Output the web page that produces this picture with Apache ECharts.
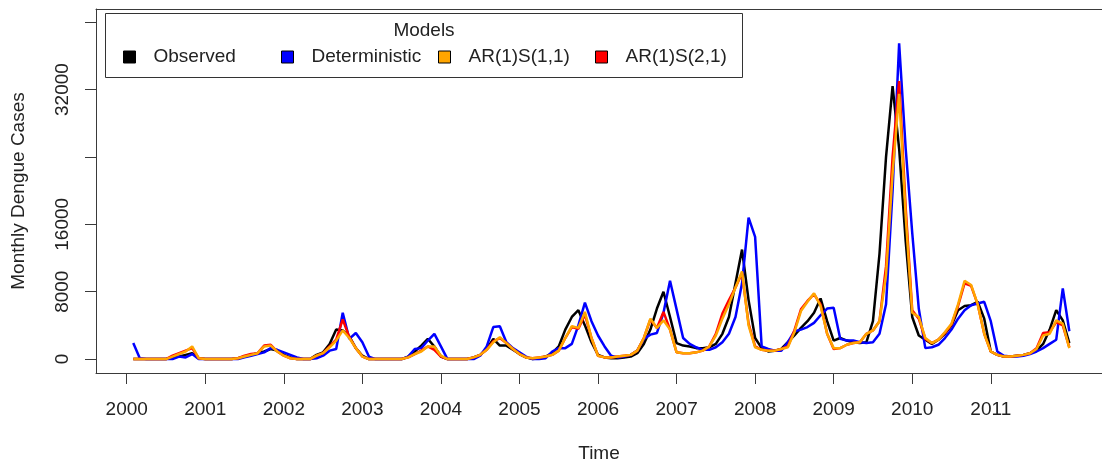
<!DOCTYPE html>
<html>
<head>
<meta charset="utf-8">
<script src="https://cdn.jsdelivr.net/npm/echarts@6/dist/echarts.min.js"></script>
<style>
html,body{margin:0;padding:0;background:#fff;}
#chart{width:1102px;height:468px;}
</style>
</head>
<body>
<div id="chart"></div>
<script>
// ---- data (monthly, Feb 2000 .. Jan 2012) ----
const startYear = 2000;
const observed = [0,0,0,0,0,0,200,300,500,700,100,0,
0,0,0,0,100,300,500,700,900,1200,1000,500,
200,0,0,0,500,800,1800,3500,3400,2700,1300,400,
0,0,0,0,0,0,300,900,1600,2400,1500,300,
0,0,0,0,200,500,1200,2400,1600,1600,1100,600,
200,0,100,300,700,1500,3500,5000,5800,4000,2000,500,
200,100,100,200,300,700,1800,3500,6000,8000,5000,1900,
1600,1500,1300,1300,1400,1800,3000,5000,9000,13000,7000,2500,
1300,900,1000,1200,2000,2800,3700,4500,5500,7200,4500,2200,
2500,2200,2000,1900,2000,4500,12500,24000,32400,25000,14000,5000,
2800,2300,1800,2300,3000,4000,5800,6300,6400,6800,4800,900,
500,300,300,400,500,700,1000,1800,3500,5800,4600,1900];
const deterministic = [1900,100,0,0,0,0,0,300,200,600,0,0,
0,0,0,0,0,200,400,600,800,1300,1100,800,
500,200,0,0,100,400,1000,1200,5500,2400,3100,2000,
300,0,0,0,0,0,300,1200,1300,2200,3000,1500,
0,0,0,0,0,400,1500,3800,3900,2000,1300,800,
300,0,0,100,900,1300,1300,1800,4000,6700,4500,2800,
1500,400,200,300,500,1000,2400,2900,3100,5500,9300,5900,
2500,1800,1400,1100,1100,1400,2000,3000,5000,9000,16800,14500,
1500,1200,1000,1000,2000,3300,3500,3800,4300,5200,6000,6100,
2400,2200,2200,2000,1900,2000,3000,6500,20000,37500,25000,15000,
6000,1300,1400,1700,2500,3500,4800,5800,6400,6600,6800,4500,
900,400,300,300,400,600,900,1300,1800,2300,8400,3300];
const ar1s11 = [0,0,0,0,0,0,300,600,900,1500,100,0,
0,0,0,0,100,300,500,700,1500,1600,900,400,
100,0,0,0,400,700,1400,2200,3400,2500,1300,300,
0,0,0,0,0,0,200,600,900,1500,1500,400,
0,0,0,0,200,500,1100,2000,2600,1900,1200,600,
200,100,200,300,500,1000,2500,3900,3700,5600,2500,400,
200,200,300,400,500,1000,2500,4800,3700,4600,3500,800,
700,700,800,1000,1500,2800,4800,6500,8500,10400,4000,1400,
1100,1000,1000,1200,1400,3200,5700,6800,7800,6300,3000,1300,
1300,1700,1900,2000,3000,3400,4500,10000,22000,31500,17000,5500,
5000,2500,1900,2300,3200,4200,6500,9300,8800,6500,3000,900,
500,300,300,400,500,700,1200,2800,3000,4600,4200,1300];
const ar1s21 = [0,0,0,0,0,0,400,700,1000,1300,100,0,
0,0,0,0,100,400,600,700,1600,1700,900,400,
100,0,0,0,400,700,1500,2300,4700,2600,1300,300,
0,0,0,0,0,0,200,600,1000,1500,1100,300,
0,0,0,0,200,500,1100,2100,2500,1900,1200,600,
200,100,200,300,500,1000,2500,3800,3600,5300,2500,400,
200,200,300,400,500,1000,2500,4700,3700,5600,3500,800,
700,700,800,1000,1500,3000,5400,7000,8500,10200,4200,1500,
1100,1000,1000,1200,1500,3400,5900,6900,7700,6500,3000,1200,
1300,1700,1900,2000,3000,3400,4500,11000,24000,33000,18000,5800,
4800,2400,1900,2300,3100,4100,6300,9000,8700,6500,3000,900,
500,300,300,400,500,700,1300,3100,3200,4400,4000,1400];
const yearTicks = [2000,2001,2002,2003,2004,2005,2006,2007,2008,2009,2010,2011];
const yTicks = [0,8000,16000,24000,32000,40000];
const yLabels = {0:'0',8000:'8000',16000:'16000',32000:'32000'};
const seriesNames = ['Observed','Deterministic','AR(1)S(1,1)','AR(1)S(2,1)'];
const seriesColors = ['#000000','#0000FF','#FFA500','#FF0000'];

const time = observed.map((_, i) => startYear + (i + 1) / 12);
const pairs = arr => arr.map((v, i) => [time[i], v]);

const FONT = '"Liberation Sans", Arial, sans-serif';
const AX = '#3a3a3a';
const TXT = '#222222';
const XMIN = 1999.609, XMAX = 2012.416;

const chart = echarts.init(document.getElementById('chart'), null, {renderer: 'canvas'});

const legendLeft = [123, 281, 438, 595];
const legends = seriesNames.map((n, i) => ({
  data: [n], left: legendLeft[i], top: 47, padding: 0, z: 120, zlevel: 0,
  icon: 'rect', itemWidth: 12, itemHeight: 12,
  itemStyle: {borderColor: '#000', borderWidth: 1},
  selectedMode: false,
  textStyle: {fontFamily: FONT, fontSize: 19, color: TXT, padding: [0,0,0,13], lineHeight: 20}
}));

const mk = (name, arr, color, z) => ({
  name, type: 'line', data: pairs(arr), showSymbol: false, symbol: 'none',
  lineStyle: {color, width: 2.5}, itemStyle: {color}, z, silent: true, animation: false
});

chart.setOption({
  animation: false,
  grid: {left: 96, top: 9, right: 0, bottom: 93, show: false},
  xAxis: [{
    type: 'value', min: XMIN, max: XMAX,
    splitLine: {show: false},
    axisLine: {show: true, onZero: false, lineStyle: {color: AX, width: 1}},
    axisTick: {show: true, inside: false, length: 11, lineStyle: {color: AX, width: 1}, customValues: yearTicks},
    axisLabel: {customValues: yearTicks, formatter: v => String(Math.round(v)), fontFamily: FONT, fontSize: 19, color: TXT, margin: 27},
    name: 'Time', nameLocation: 'middle', nameGap: 71,
    nameTextStyle: {fontFamily: FONT, fontSize: 19, color: TXT}
  }, {
    type: 'value', position: 'top', min: XMIN, max: XMAX,
    splitLine: {show: false},
    axisLine: {show: true, onZero: false, lineStyle: {color: AX, width: 1}},
    axisTick: {show: false}, axisLabel: {show: false}
  }],
  yAxis: {
    type: 'value', min: -1653, max: 41563,
    splitLine: {show: false},
    axisLine: {show: true, onZero: false, lineStyle: {color: AX, width: 1}},
    axisTick: {show: true, inside: false, length: 11, lineStyle: {color: AX, width: 1}, customValues: yTicks},
    axisLabel: {customValues: yTicks, rotate: 90, formatter: v => (yLabels[Math.round(v)] !== undefined ? yLabels[Math.round(v)] : ''), fontFamily: FONT, fontSize: 19, color: TXT, margin: 24},
    name: 'Monthly Dengue Cases', nameLocation: 'middle', nameGap: 68, nameRotate: 90,
    nameTextStyle: {fontFamily: FONT, fontSize: 19, color: TXT}
  },
  legend: legends,
  graphic: [
    {type: 'rect', shape: {x: 105.5, y: 13.5, width: 637, height: 64}, style: {fill: '#fff', stroke: '#333', lineWidth: 1}, z: 50},
    {type: 'text', style: {text: 'Models', x: 424, y: 31, align: 'center', verticalAlign: 'middle', font: '19px "Liberation Sans", Arial, sans-serif', fill: TXT}, z: 51}
  ],
  series: [
    mk(seriesNames[0], observed, seriesColors[0], 2),
    mk(seriesNames[1], deterministic, seriesColors[1], 3),
    mk(seriesNames[3], ar1s21, seriesColors[3], 4),
    mk(seriesNames[2], ar1s11, seriesColors[2], 5)
  ]
});
</script>
</body>
</html>
